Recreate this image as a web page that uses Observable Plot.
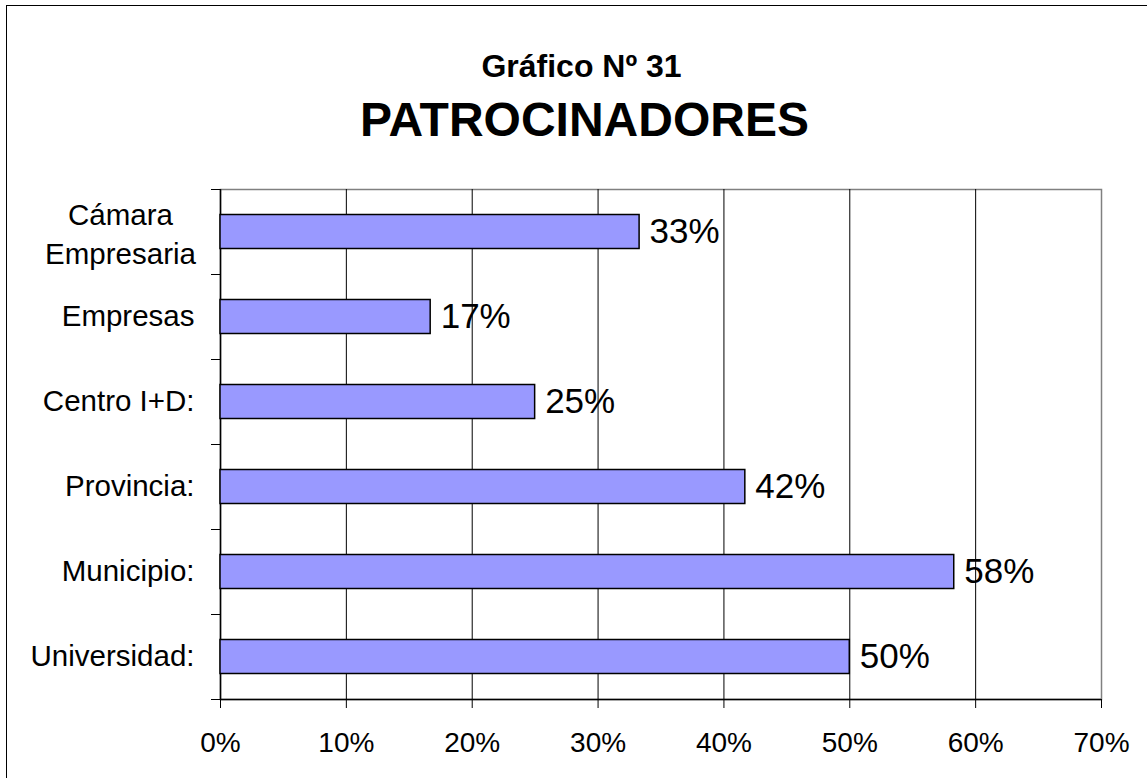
<!DOCTYPE html>
<html>
<head>
<meta charset="utf-8">
<script src="https://cdn.jsdelivr.net/npm/d3@7"></script>
<script src="https://cdn.jsdelivr.net/npm/@observablehq/plot@0.6"></script>
<style>
  html, body { margin: 0; padding: 0; background: #fff; overflow: hidden; }
  #wrap { position: relative; width: 1147px; height: 778px; }
  #border { position: absolute; left: 6px; top: 5px; width: 1300px; height: 1000px; border: 1.5px solid #000; pointer-events: none; }
  #chart { position: absolute; left: 0; top: 0; }
</style>
</head>
<body>
<div id="wrap"><div id="chart"></div><div id="border"></div></div>
<script>
const titleLine1 = "Gráfico Nº 31";
const titleLine2 = "PATROCINADORES";
const categories = ["Cámara\nEmpresaria", "Empresas", "Centro I+D:", "Provincia:", "Municipio:", "Universidad:"];
const values = [0.333, 0.167, 0.25, 0.417, 0.583, 0.5];
const xTicks = [0, 0.1, 0.2, 0.3, 0.4, 0.5, 0.6, 0.7];
const gridTicks = [0.1, 0.2, 0.3, 0.4, 0.5, 0.6];

const rows = categories.map((c, i) => ({cat: c, i, value: values[i]}));
const fmt = d3.format(".0%");
const font = "Liberation Sans, Arial, Helvetica, sans-serif";

const chart = Plot.plot({
  width: 1147,
  height: 778,
  marginTop: 189,
  marginLeft: 220,
  marginRight: 46,
  marginBottom: 79,
  style: {fontFamily: font, background: "transparent", overflow: "visible"},
  x: {domain: [0, 0.7]},
  y: {domain: [0, categories.length], reverse: true},
  marks: [
    Plot.frame({stroke: "#808080", strokeWidth: 1.5}),
    Plot.ruleX(gridTicks, {stroke: "#000", strokeWidth: 1}),
    Plot.ruleX([0], {stroke: "#000", strokeWidth: 1.5}),
    Plot.ruleY([categories.length], {stroke: "#000", strokeWidth: 1.5}),
    Plot.axisX({ticks: xTicks, tickFormat: fmt, tickSize: 9, tickPadding: 24, fontSize: 28, lineAnchor: "top", stroke: "#000", fill: "#000", label: null}),
    Plot.axisY({ticks: d3.range(0, categories.length + 1), tickFormat: () => "", tickSize: 9, stroke: "#000", label: null}),
    Plot.rectX(rows, {x1: 0, x2: "value", y1: "i", y2: d => d.i + 1, insetTop: 25.5, insetBottom: 25.5, fill: "#9999FF", stroke: "#000", strokeWidth: 1.5}),
    Plot.text(rows, {x: "value", y: d => d.i + 0.5, text: d => fmt(d.value), dx: 10, textAnchor: "start", lineAnchor: "middle", fontSize: 35, fill: "#000"}),
    Plot.text(rows.filter(d => !d.cat.includes("\n")), {frameAnchor: "left", y: d => d.i + 0.5, text: "cat", dx: -26, textAnchor: "end", lineAnchor: "middle", fontSize: 29.5, fill: "#000"}),
    Plot.text(rows.filter(d => d.cat.includes("\n")), {frameAnchor: "left", y: d => d.i + 0.5, text: "cat", dx: -100, textAnchor: "middle", lineAnchor: "middle", lineHeight: 1.32, fontSize: 29.5, fill: "#000"}),
    Plot.text([titleLine1], {frameAnchor: "top-left", text: d => d, dx: 361, dy: -113, textAnchor: "middle", lineAnchor: "bottom", fontSize: 32, fontWeight: "bold", fill: "#000"}),
    Plot.text([titleLine2], {frameAnchor: "top-left", text: d => d, dx: 364, dy: -54, textAnchor: "middle", lineAnchor: "bottom", fontSize: 48, fontWeight: "bold", fill: "#000"})
  ]
});
document.getElementById("chart").appendChild(chart);
</script>
</body>
</html>
